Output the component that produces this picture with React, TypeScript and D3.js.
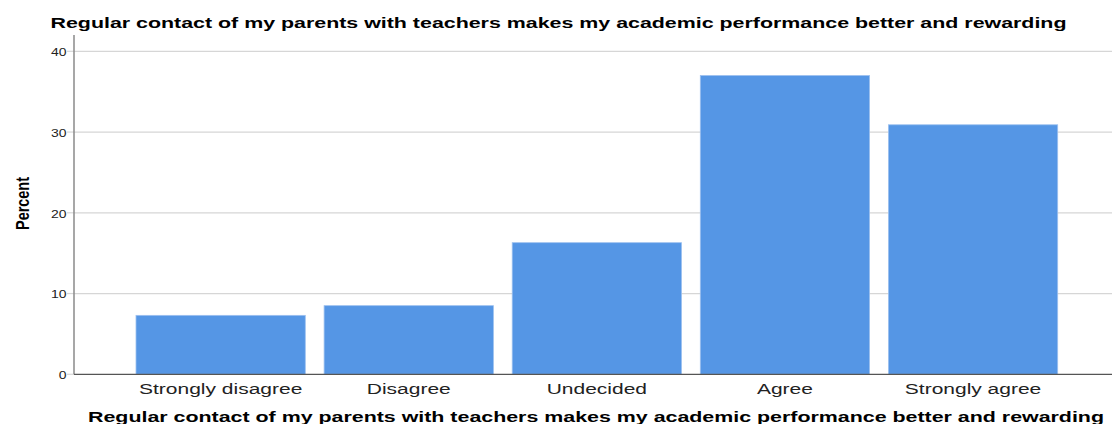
import React from "react";
import * as d3 from "d3";

const categories = ["Strongly disagree", "Disagree", "Undecided", "Agree", "Strongly agree"];
const percents = [7.3, 8.5, 16.3, 37.0, 30.9];
const yTicks = [0, 10, 20, 30, 40];
const title = "Regular contact of my parents with teachers makes my academic performance better and rewarding";
const xTitle = "Regular contact of my parents with teachers makes my academic performance better and rewarding";
const yTitle = "Percent";

const W = 1112;
const H = 424;
const axisX = 74;
const axisTop = 35;

export default function App() {
  const y = d3.scaleLinear().domain([0, 40]).range([374.3, 51.3]);
  const x = d3
    .scaleBand<string>()
    .domain(categories)
    .range([126.6, 1067.1])
    .paddingInner(0.1)
    .paddingOuter(0.05);

  const font = "'Liberation Sans', Arial, sans-serif";

  return (
    <svg
      width={W}
      height={H}
      style={{ position: "absolute", left: 0, top: 0, background: "#fff" }}
      fontFamily={font}
    >
      <rect x={0} y={0} width={W} height={H} fill="#fff" />
      <text x={50.5} y={28} fontSize={15} fontWeight="bold" fill="#000" textLength={1016} lengthAdjust="spacingAndGlyphs">
        {title}
      </text>
      {yTicks.map((t) => (
        <g key={t}>
          {t > 0 && (
            <line x1={axisX} x2={W} y1={y(t)} y2={y(t)} stroke="#d6d6d6" strokeWidth={1.2} />
          )}
          <line x1={axisX - 7} x2={axisX} y1={y(t)} y2={y(t)} stroke="#d6d6d6" strokeWidth={1.2} />
          <text
            transform={`translate(66.5,${y(t) + 4.8}) scale(1.4,1)`}
            fontSize={10}
            textAnchor="end"
            fill="#222"
          >
            {t}
          </text>
        </g>
      ))}
      {categories.map((c, i) => (
        <rect
          key={c}
          x={x(c)}
          y={y(percents[i])}
          width={x.bandwidth()}
          height={y(0) - y(percents[i])}
          fill="#5596E5"
          stroke="#9cc0ef"
          strokeWidth={0.8}
        />
      ))}
      <line x1={axisX} x2={axisX} y1={axisTop} y2={y(0)} stroke="#8a8a8a" strokeWidth={1.5} />
      <line x1={axisX} x2={W} y1={y(0)} y2={y(0)} stroke="#555" strokeWidth={1.2} />
      {categories.map((c) => (
        <text
          key={c}
          transform={`translate(${(x(c) as number) + x.bandwidth() / 2},394) scale(1.4,1)`}
          fontSize={15}
          textAnchor="middle"
          fill="#222"
        >
          {c}
        </text>
      ))}
      <text
        x={596}
        y={421.5}
        fontSize={15}
        fontWeight="bold"
        textAnchor="middle"
        fill="#000"
        textLength={1016}
        lengthAdjust="spacingAndGlyphs"
      >
        {xTitle}
      </text>
      <text
        transform={`translate(28.5,203.5) rotate(-90)`}
        fontSize={18.5}
        fontWeight="bold"
        textAnchor="middle"
        fill="#000"
        textLength={53}
        lengthAdjust="spacingAndGlyphs"
      >
        {yTitle}
      </text>
    </svg>
  );
}
